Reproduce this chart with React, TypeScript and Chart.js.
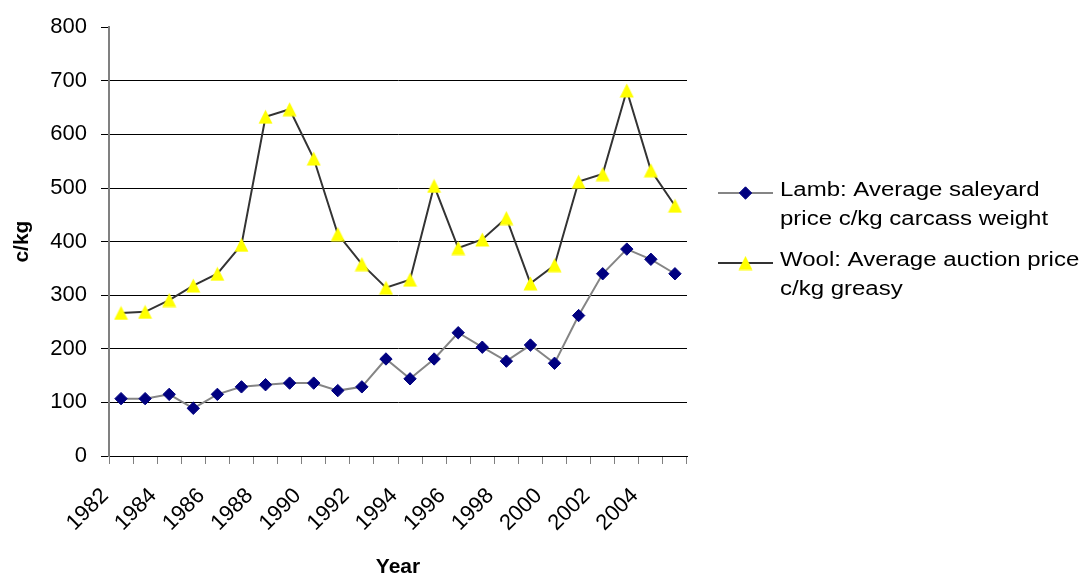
import React, { useEffect, useRef } from 'react';
import { Chart, registerables } from 'chart.js';
import { drawPoint } from 'chart.js/helpers';

Chart.register(...registerables);

const years = [
  '1982', '1983', '1984', '1985', '1986', '1987', '1988', '1989', '1990', '1991', '1992', '1993',
  '1994', '1995', '1996', '1997', '1998', '1999', '2000', '2001', '2002', '2003', '2004', '2005',
];
const lambPrices = [107, 107, 115, 89, 115, 129, 133, 136, 136, 122, 129, 181, 144, 181, 230, 203, 177, 207, 173, 262, 340, 386, 367, 340];
const woolPrices = [267, 269, 291, 318, 340, 394, 633, 647, 555, 414, 358, 314, 329, 504, 388, 404, 444, 322, 356, 512, 526, 682, 533, 467];
const yTicks = [0, 100, 200, 300, 400, 500, 600, 700, 800];
const lambLabel = ['Lamb: Average saleyard', 'price c/kg carcass weight'];
const woolLabel = ['Wool: Average auction price', 'c/kg greasy'];
const legendLines = [lambLabel, woolLabel];

function makeTriangle(color: string): HTMLCanvasElement {
  const c = document.createElement('canvas');
  c.width = 15;
  c.height = 15;
  const g = c.getContext('2d')!;
  g.fillStyle = color;
  g.beginPath();
  g.moveTo(7.5, 0.5);
  g.lineTo(14.5, 14.5);
  g.lineTo(0.5, 14.5);
  g.closePath();
  g.fill();
  return c;
}

const sideLegend = {
  id: 'sideLegend',
  afterDraw(chart: any, _args: any, opts: any) {
    const ctx = chart.ctx as CanvasRenderingContext2D;
    ctx.save();
    chart.data.datasets.forEach((ds: any, i: number) => {
      const item = opts.items[i];
      const ly = item.lineY;
      ctx.strokeStyle = ds.borderColor;
      ctx.lineWidth = ds.borderWidth;
      ctx.beginPath();
      ctx.moveTo(opts.x, ly);
      ctx.lineTo(opts.x + opts.sampleWidth, ly);
      ctx.stroke();
      ctx.fillStyle = ds.pointBackgroundColor;
      ctx.strokeStyle = ds.pointBorderColor;
      ctx.lineWidth = ds.pointBorderWidth;
      drawPoint(ctx, { pointStyle: ds.pointStyle, radius: ds.pointRadius, borderWidth: ds.pointBorderWidth, rotation: 0 } as any, opts.x + opts.sampleWidth / 2, ly);
      ctx.fillStyle = '#000';
      ctx.font = opts.font;
      ctx.textBaseline = 'middle';
      ctx.textAlign = 'left';
      legendLines[i].forEach((line, j) => {
        ctx.save();
        ctx.translate(opts.textX, item.textY + j * opts.lineGap);
        ctx.scale(opts.stretch, 1);
        ctx.fillText(line, 0, 0);
        ctx.restore();
      });
    });
    ctx.restore();
  },
};

export default function App() {
  const ref = useRef<HTMLCanvasElement | null>(null);
  useEffect(() => {
    if (!ref.current) return;
    const tickFont = { family: 'Arial, "Liberation Sans"', size: 22 };
    const titleFont = { family: 'Arial, "Liberation Sans"', size: 21, weight: 'bold' as const };
    const triangle = makeTriangle('#FFFF00');
    const chart = new Chart(ref.current, {
      type: 'line',
      data: {
        labels: years,
        datasets: [
          {
            label: lambLabel.join(' '),
            data: lambPrices,
            borderColor: '#858585',
            borderWidth: 2,
            pointStyle: 'rectRot',
            pointRadius: 6.2,
            pointBackgroundColor: '#000080',
            pointBorderColor: '#000080',
            pointBorderWidth: 1,
            tension: 0,
          },
          {
            label: woolLabel.join(' '),
            data: woolPrices,
            borderColor: '#333333',
            borderWidth: 2,
            pointStyle: triangle,
            pointRadius: 7.5,
            pointBackgroundColor: '#FFFF00',
            pointBorderColor: '#FFFF00',
            pointBorderWidth: 1,
            tension: 0,
          },
        ],
      },
      options: {
        animation: false,
        responsive: true,
        maintainAspectRatio: false,
        layout: { padding: { top: 24, right: 398, bottom: 0, left: 0 } },
        plugins: {
          legend: { display: false },
          tooltip: { enabled: false },
          sideLegend: {
            x: 718,
            sampleWidth: 55,
            textX: 780,
            lineGap: 29,
            stretch: 1.2,
            font: '20px Arial, "Liberation Sans"',
            items: [
              { lineY: 193, textY: 190 },
              { lineY: 263, textY: 260 },
            ],
          },
        } as any,
        scales: {
          x: {
            type: 'category',
            offset: true,
            grid: { offset: true, drawOnChartArea: false, tickLength: 8, tickColor: '#808080', color: '#808080' },
            border: { color: '#000', width: 1 },
            ticks: {
              autoSkip: false,
              minRotation: 45,
              maxRotation: 45,
              labelOffset: -16,
              padding: 19,
              font: tickFont,
              color: '#000',
              callback: (_v: any, i: number) => (i % 2 === 0 ? years[i] : ''),
            },
            title: { display: true, text: 'Year', font: { ...titleFont, lineHeight: 1 }, color: '#000', padding: { top: 0, bottom: -2 } },
            afterFit: (s: any) => { s.height = 120; },
          },
          y: {
            min: 0,
            max: 800,
            afterBuildTicks: (s: any) => { s.ticks = yTicks.map((v) => ({ value: v })); },
            ticks: { padding: 14, font: tickFont, color: '#000' },
            grid: {
              color: (c: any) => (c.tick && c.tick.value === 800 ? 'rgba(0,0,0,0)' : '#000'),
              tickColor: '#000',
              tickLength: 8,
              lineWidth: 1,
            },
            border: { color: '#808080', width: 2 },
            title: { display: true, text: 'c/kg', font: titleFont, color: '#000', padding: { top: 10, bottom: 0 } },
            afterFit: (s: any) => { s.width = 109; },
          },
        },
      },
      plugins: [sideLegend],
    });
    return () => chart.destroy();
  }, []);
  return (
    <div style={{ position: 'fixed', left: 0, top: 0, width: 1085, height: 576, background: '#fff' }}>
      <canvas ref={ref} />
    </div>
  );
}
